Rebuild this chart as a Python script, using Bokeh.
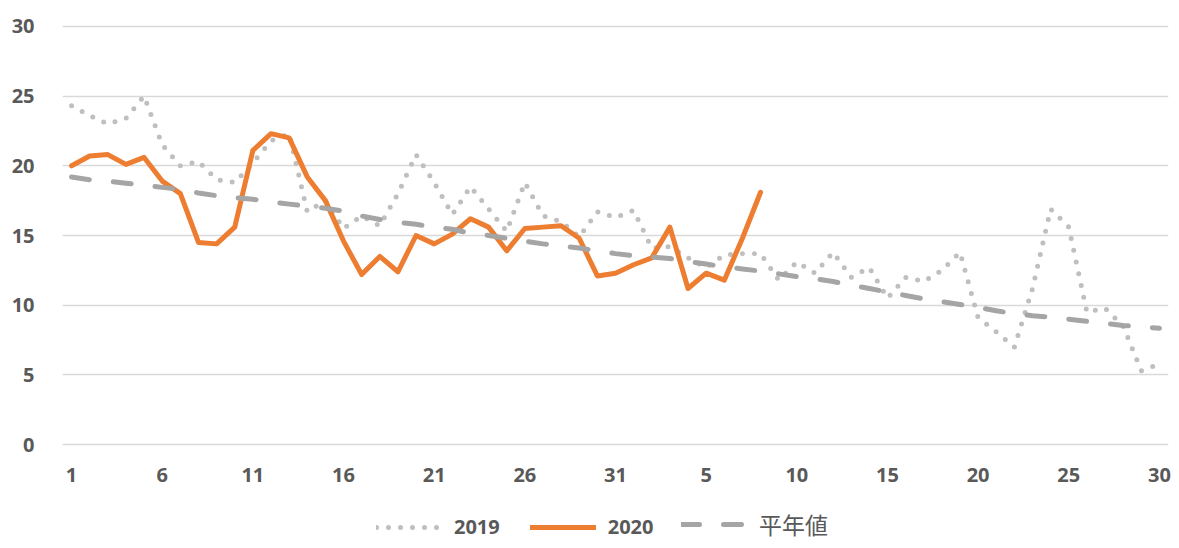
from bokeh.plotting import figure
from bokeh.models import Range1d, FixedTicker, Legend, LegendItem
from bokeh.layouts import column
from bokeh.embed import file_html
from bokeh.resources import INLINE

# x positions: Oct 1..31 then Nov 1..30 (index 0..60)
tick_positions = [0, 5, 10, 15, 20, 25, 30, 35, 40, 45, 50, 55, 60]
tick_labels = ["1", "6", "11", "16", "21", "26", "31", "5", "10", "15", "20", "25", "30"]

y2019 = [24.3, 23.6, 23.0, 23.4, 25.0, 21.5, 20.0, 20.3, 19.0, 18.8,
         20.2, 21.8, 22.3, 16.7, 17.5, 15.5, 16.4, 15.7, 18.0, 20.8,
         18.8, 16.5, 18.5, 16.9, 15.3, 18.8, 16.4, 16.0, 14.9, 16.7,
         16.3, 16.8, 14.1, 14.2, 13.4, 12.7, 13.6, 13.7, 13.7, 11.8,
         13.1, 12.3, 13.8, 12.0, 12.7, 10.5, 12.0, 11.7, 12.5, 13.8,
         9.1, 8.1, 7.0, 11.2, 16.9, 15.6, 9.5, 9.8, 8.5, 5.3,
         5.8]

y2020 = [20.0, 20.7, 20.8, 20.1, 20.6, 18.9, 18.0, 14.5, 14.4, 15.6,
         21.1, 22.3, 22.0, 19.2, 17.5, 14.6, 12.2, 13.5, 12.4, 15.0,
         14.4, 15.1, 16.2, 15.6, 13.9, 15.5, 15.6, 15.7, 14.8, 12.1,
         12.3, 12.9, 13.4, 15.6, 11.2, 12.3, 11.8, 14.8, 18.1]

normal = [19.2, 19.0, 18.9, 18.75, 18.6, 18.45, 18.3, 18.05, 17.85, 17.7,
          17.6, 17.4, 17.25, 17.1, 16.95, 16.75, 16.4, 16.15, 15.95, 15.8,
          15.6, 15.45, 15.15, 15.0, 14.8, 14.6, 14.4, 14.25, 14.1, 13.9,
          13.7, 13.55, 13.45, 13.35, 13.15, 12.95, 12.75, 12.6, 12.45, 12.25,
          12.05, 11.9, 11.7, 11.45, 11.2, 10.95, 10.7, 10.45, 10.25, 10.05,
          9.85, 9.6, 9.4, 9.25, 9.15, 9.0, 8.85, 8.7, 8.55, 8.45,
          8.35]

series_names = ["2019", "2020", "平年値"]

x2019 = list(range(len(y2019)))
x2020 = list(range(len(y2020)))
xnorm = list(range(len(normal)))

style2019 = dict(line_color="#BFBFBF", line_width=5, line_dash="0 12",
                 line_cap="round", line_join="round")
style2020 = dict(line_color="#ED7D31", line_width=5, line_cap="round",
                 line_join="round")
stylenorm = dict(line_color="#A5A5A5", line_width=5, line_dash="18 24",
                 line_cap="round", line_join="round")

# ---------------- main chart ----------------
p = figure(width=1179, height=500, output_backend="svg", toolbar_location=None,
           x_range=Range1d(-0.5, 60.5), y_range=Range1d(-0.2, 30.2),
           min_border_left=62, min_border_right=11, min_border_top=23,
           min_border_bottom=53)
p.outline_line_color = None
p.background_fill_color = "white"
p.border_fill_color = "white"

p.xgrid.grid_line_color = None
p.ygrid.grid_line_color = "#D9D9D9"
p.ygrid.grid_line_width = 1.5
p.yaxis.ticker = FixedTicker(ticks=[0, 5, 10, 15, 20, 25, 30])
p.xaxis.ticker = FixedTicker(ticks=tick_positions)
p.xaxis.major_label_overrides = {pos: lab for pos, lab in zip(tick_positions, tick_labels)}

for ax in (p.xaxis, p.yaxis):
    ax.axis_line_color = None
    ax.major_tick_line_color = None
    ax.minor_tick_line_color = None
    ax.major_label_text_font = "Open Sans"
    ax.major_label_text_font_style = "bold"
    ax.major_label_text_font_size = "20px"
    ax.major_label_text_color = "#595959"
p.yaxis.major_label_standoff = 22
p.xaxis.major_label_standoff = 14

p.line(x2019, y2019, **style2019)
p.line(x2020, y2020, **style2020)
p.line(xnorm, normal, **stylenorm)

# ---------------- legend strip ----------------
# same series drawn on a strip whose ranges show none of them: only the
# legend samples are visible
q = figure(width=1179, height=48, output_backend="svg", toolbar_location=None,
           x_axis_location=None, y_axis_location=None,
           x_range=Range1d(-3, -2), y_range=Range1d(-3, -2),
           min_border_left=0, min_border_right=0, min_border_top=0,
           min_border_bottom=0)
q.outline_line_color = None
q.grid.visible = False
q.background_fill_color = "white"
q.border_fill_color = "white"

g2019 = q.line(x2019, y2019, **style2019)
g2020 = q.line(x2020, y2020, **style2020)
gnorm = q.line(xnorm, normal, **stylenorm)

leg1 = Legend(items=[LegendItem(label=series_names[0], renderers=[g2019]),
                     LegendItem(label=series_names[1], renderers=[g2020])],
              location=(314, 8), orientation="horizontal")
leg2 = Legend(items=[LegendItem(label=series_names[2], renderers=[gnorm])],
              location=(619, 7), orientation="horizontal")
for lg in (leg1, leg2):
    lg.glyph_width = 66
    lg.glyph_height = 20
    lg.label_standoff = 12
    lg.spacing = 30
    lg.padding = 0
    lg.margin = 0
    lg.border_line_color = None
    lg.background_fill_alpha = 0
    lg.label_text_font_size = "20px"
    lg.label_text_color = "#595959"
leg1.label_text_font = "Open Sans"
leg1.label_text_font_style = "bold"
leg2.label_text_font = "Noto Sans CJK JP"
leg2.label_text_font_style = "normal"
leg2.label_text_font_size = "23px"
q.add_layout(leg1)
q.add_layout(leg2)

layout = column(p, q, spacing=0)
open("out.html", "w").write(file_html(layout, INLINE))
